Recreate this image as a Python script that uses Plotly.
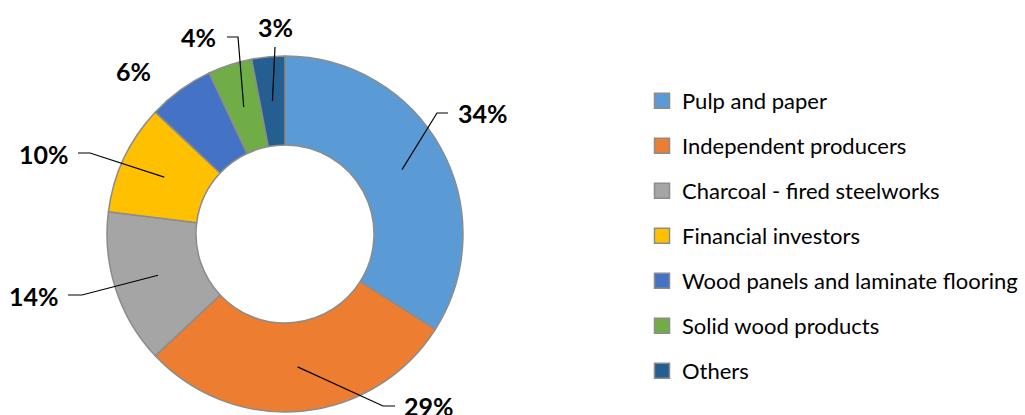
import math
import plotly.graph_objects as go

# ---- data ----
categories = ["Pulp and paper", "Independent producers", "Charcoal - fired steelworks",
              "Financial investors", "Wood panels and laminate flooring",
              "Solid wood products", "Others"]
shares = [34, 29, 14, 10, 6, 4, 3]
pct_labels = ["34%", "29%", "14%", "10%", "6%", "4%", "3%"]

# ---- style ----
colors = ["#5B9BD5", "#ED7D31", "#A5A5A5", "#FFC000", "#4472C4", "#70AD47", "#255E91"]
W, H = 1025, 415
CX, CY, R_OUT, HOLE = 285, 234, 178, 0.5
R_MID = R_OUT * (1 + HOLE) / 2

# label placement (pixel layout): elbow point, tail end, text position, anchor
label_layout = [
    dict(elbow=(437, 113), tail=(448, 113), text=(456, 113), anchor="left"),
    dict(elbow=(383, 406), tail=(395, 406), text=(402, 406), anchor="left"),
    dict(elbow=(82, 295), tail=(68, 295), text=(61, 296), anchor="right"),
    dict(elbow=(90, 153), tail=(78, 153), text=(71, 154), anchor="right"),
    dict(elbow=None, tail=None, text=(133, 71), anchor="center"),
    dict(elbow=(238, 37), tail=(227, 37), text=(218, 37), anchor="right"),
    dict(elbow=(275, 47), tail=None, text=(275, 27), anchor="center"),
]


def px(x):
    return x / W


def py(y):
    return 1 - y / H


fig = go.Figure()
fig.add_trace(go.Pie(
    labels=categories, values=shares, hole=HOLE, sort=False, direction="clockwise",
    rotation=0, textinfo="none", hoverinfo="label+percent", showlegend=False,
    marker=dict(colors=colors, line=dict(color="#8C8C8C", width=1.5)),
    domain=dict(x=[px(CX - R_OUT), px(CX + R_OUT)], y=[py(CY + R_OUT), py(CY - R_OUT)]),
))

# legend entries via dummy traces (one group each for spacing)
for i, (c, col) in enumerate(zip(categories, colors)):
    fig.add_trace(go.Scatter(
        x=[None], y=[None], mode="markers", name=c, legendgroup=f"g{i}",
        marker=dict(symbol="square", size=15, color=col, line=dict(color="#8C8C8C", width=1.5)),
    ))

# leader lines + labels
total = sum(shares)
cum = 0
shapes = []
annotations = []
for v, lab, lay in zip(shares, pct_labels, label_layout):
    mid = (cum + v / 2) / total * 2 * math.pi
    cum += v
    sx = CX + R_MID * math.sin(mid)
    sy = CY - R_MID * math.cos(mid)
    if lay["elbow"] is not None:
        pts = [(sx, sy), lay["elbow"]]
        if lay["tail"] is not None:
            pts.append(lay["tail"])
        path = "M " + " L ".join(f"{px(a):.5f},{py(b):.5f}" for a, b in pts)
        shapes.append(dict(type="path", path=path, xref="paper", yref="paper",
                           line=dict(color="black", width=1.2)))
    tx, ty = lay["text"]
    annotations.append(dict(
        x=px(tx), y=py(ty), xref="paper", yref="paper", text=f"<b>{lab}</b>",
        showarrow=False, xanchor=lay["anchor"], yanchor="middle",
        font=dict(family="Lato", size=25, color="black"),
    ))

fig.update_layout(
    width=W, height=H, margin=dict(l=0, r=0, t=0, b=0),
    paper_bgcolor="white", plot_bgcolor="white",
    xaxis=dict(visible=False), yaxis=dict(visible=False),
    shapes=shapes, annotations=annotations,
    legend=dict(x=px(642), y=py(80), xanchor="left", yanchor="top",
                font=dict(family="Lato", size=22, color="black"),
                tracegroupgap=13.4, itemclick=False, bgcolor="rgba(0,0,0,0)"),
    showlegend=True,
)

fig.write_html("out.html", config={"displayModeBar": False},
               post_script="document.body.style.margin='0';document.body.style.overflow='hidden';")
